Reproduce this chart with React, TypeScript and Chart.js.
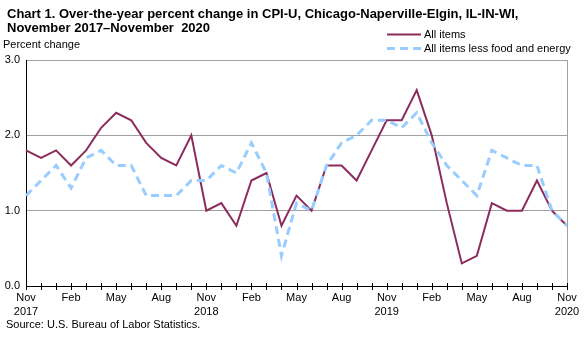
import React, { useEffect, useRef } from "react";
import { Chart, registerables } from "chart.js";

Chart.register(...registerables);

const months: string[] = [
  "Nov 2017", "Dec 2017", "Jan 2018", "Feb 2018", "Mar 2018", "Apr 2018", "May 2018", "Jun 2018", "Jul 2018", "Aug 2018", "Sep 2018", "Oct 2018",
  "Nov 2018", "Dec 2018", "Jan 2019", "Feb 2019", "Mar 2019", "Apr 2019", "May 2019", "Jun 2019", "Jul 2019", "Aug 2019", "Sep 2019", "Oct 2019",
  "Nov 2019", "Dec 2019", "Jan 2020", "Feb 2020", "Mar 2020", "Apr 2020", "May 2020", "Jun 2020", "Jul 2020", "Aug 2020", "Sep 2020", "Oct 2020",
  "Nov 2020",
];

const allItems: number[] = [
  1.8, 1.7, 1.8, 1.6, 1.8, 2.1, 2.3, 2.2, 1.9, 1.7, 1.6, 2.0,
  1.0, 1.1, 0.8, 1.4, 1.5, 0.8, 1.2, 1.0, 1.6, 1.6, 1.4, 1.8,
  2.2, 2.2, 2.6, 2.0, 1.1, 0.3, 0.4, 1.1, 1.0, 1.0, 1.4, 1.0,
  0.8,
];

const coreItems: number[] = [
  1.2, 1.4, 1.6, 1.3, 1.7, 1.8, 1.6, 1.6, 1.2, 1.2, 1.2, 1.4,
  1.4, 1.6, 1.5, 1.9, 1.5, 0.4, 1.1, 1.0, 1.6, 1.9, 2.0, 2.2,
  2.2, 2.1, 2.3, 1.9, 1.6, 1.4, 1.2, 1.8, 1.7, 1.6, 1.6, 1.0,
  0.8,
];

const seriesNames: string[] = ["All items", "All items less food and energy"];
const titleLines: string[] = [
  "Chart 1. Over-the-year percent change in CPI-U, Chicago-Naperville-Elgin, IL-IN-WI,",
  "November 2017\u2013November  2020",
];
const yAxisTitle = "Percent change";
const sourceText = "Source: U.S. Bureau of Labor Statistics.";

const FONT = "Arial, 'Liberation Sans', sans-serif";
const RED = "#8C2C5C";
const BLUE = "#99CCFF";

export default function App() {
  const ref = useRef<HTMLCanvasElement | null>(null);

  useEffect(() => {
    const canvas = ref.current;
    if (!canvas) return;

    const decor = {
      id: "decor",
      afterDraw(chart: any) {
        const ctx = chart.ctx as CanvasRenderingContext2D;
        const area = chart.chartArea;
        const xs = chart.scales.x;
        ctx.save();
        // right border
        ctx.strokeStyle = "#A0A0A0";
        ctx.lineWidth = 1;
        ctx.beginPath();
        ctx.moveTo(Math.round(area.right) + 0.5, area.top);
        ctx.lineTo(Math.round(area.right) + 0.5, area.bottom);
        ctx.stroke();
        // x tick marks crossing axis
        ctx.strokeStyle = "#000";
        ctx.beginPath();
        for (let i = 0; i < months.length; i++) {
          const x = Math.round(xs.getPixelForValue(i)) + 0.5;
          ctx.moveTo(x, area.bottom - 3);
          ctx.lineTo(x, area.bottom + 4);
        }
        ctx.stroke();
        // title
        ctx.fillStyle = "#000";
        ctx.textBaseline = "alphabetic";
        ctx.textAlign = "left";
        ctx.font = `bold 13px ${FONT}`;
        ctx.fillText(titleLines[0], 7, 18);
        ctx.fillText(titleLines[1], 7, 32);
        // y axis title
        ctx.font = `11px ${FONT}`;
        ctx.textBaseline = "middle";
        ctx.fillText(yAxisTitle, 3, 45);
        // source
        ctx.fillText(sourceText, 6, 325);
        // legend
        ctx.lineWidth = 2;
        ctx.strokeStyle = RED;
        ctx.beginPath();
        ctx.moveTo(387, 34.5);
        ctx.lineTo(421, 34.5);
        ctx.stroke();
        ctx.lineWidth = 3;
        ctx.strokeStyle = BLUE;
        ctx.setLineDash([8, 5]);
        ctx.beginPath();
        ctx.moveTo(387, 48.5);
        ctx.lineTo(421, 48.5);
        ctx.stroke();
        ctx.setLineDash([]);
        ctx.fillStyle = "#000";
        ctx.fillText(seriesNames[0], 424, 35);
        ctx.fillText(seriesNames[1], 424, 49);
        ctx.restore();
      },
    };

    const chart = new Chart(canvas, {
      type: "line",
      data: {
        labels: months,
        datasets: [
          {
            label: seriesNames[1],
            data: coreItems,
            borderColor: BLUE,
            borderWidth: 3,
            borderDash: [8, 5],
            pointRadius: 0,
            tension: 0,
            fill: false,
          },
          {
            label: seriesNames[0],
            data: allItems,
            borderColor: RED,
            borderWidth: 2,
            pointRadius: 0,
            tension: 0,
            fill: false,
          },
        ],
      },
      options: {
        responsive: false,
        animation: false,
        devicePixelRatio: 1,
        layout: { padding: { top: 60, left: 0, right: 21, bottom: 0 } },
        plugins: {
          legend: { display: false },
          title: { display: false },
          tooltip: { enabled: false },
        },
        scales: {
          x: {
            type: "category",
            offset: false,
            grid: { display: false, drawTicks: false },
            border: { display: true, color: "#000", width: 1 },
            afterFit(scale: any) {
              scale.height = 51;
            },
            ticks: {
              autoSkip: false,
              maxRotation: 0,
              minRotation: 0,
              padding: 5,
              color: "#000",
              font: { family: FONT, size: 11, lineHeight: 1.25 },
              callback(_v: any, idx: number) {
                if (idx % 3 !== 0) return "";
                const [m, y] = months[idx].split(" ");
                return m === "Nov" ? [m, y] : m;
              },
            },
          },
          y: {
            min: 0,
            max: 3,
            afterFit(scale: any) {
              scale.width = 26;
            },
            grid: { color: "#A0A0A0", lineWidth: 1, drawTicks: false },
            border: { display: true, color: "#000", width: 1 },
            ticks: {
              stepSize: 1,
              padding: 6,
              color: "#000",
              font: { family: FONT, size: 11 },
              callback(v: any) {
                return Number(v).toFixed(1);
              },
            },
          },
        },
      },
      plugins: [decor],
    });

    return () => chart.destroy();
  }, []);

  return (
    <div style={{ position: "absolute", left: 0, top: 0, width: 588, height: 337, background: "#fff" }}>
      <canvas ref={ref} width={588} height={337} style={{ display: "block" }} />
    </div>
  );
}
